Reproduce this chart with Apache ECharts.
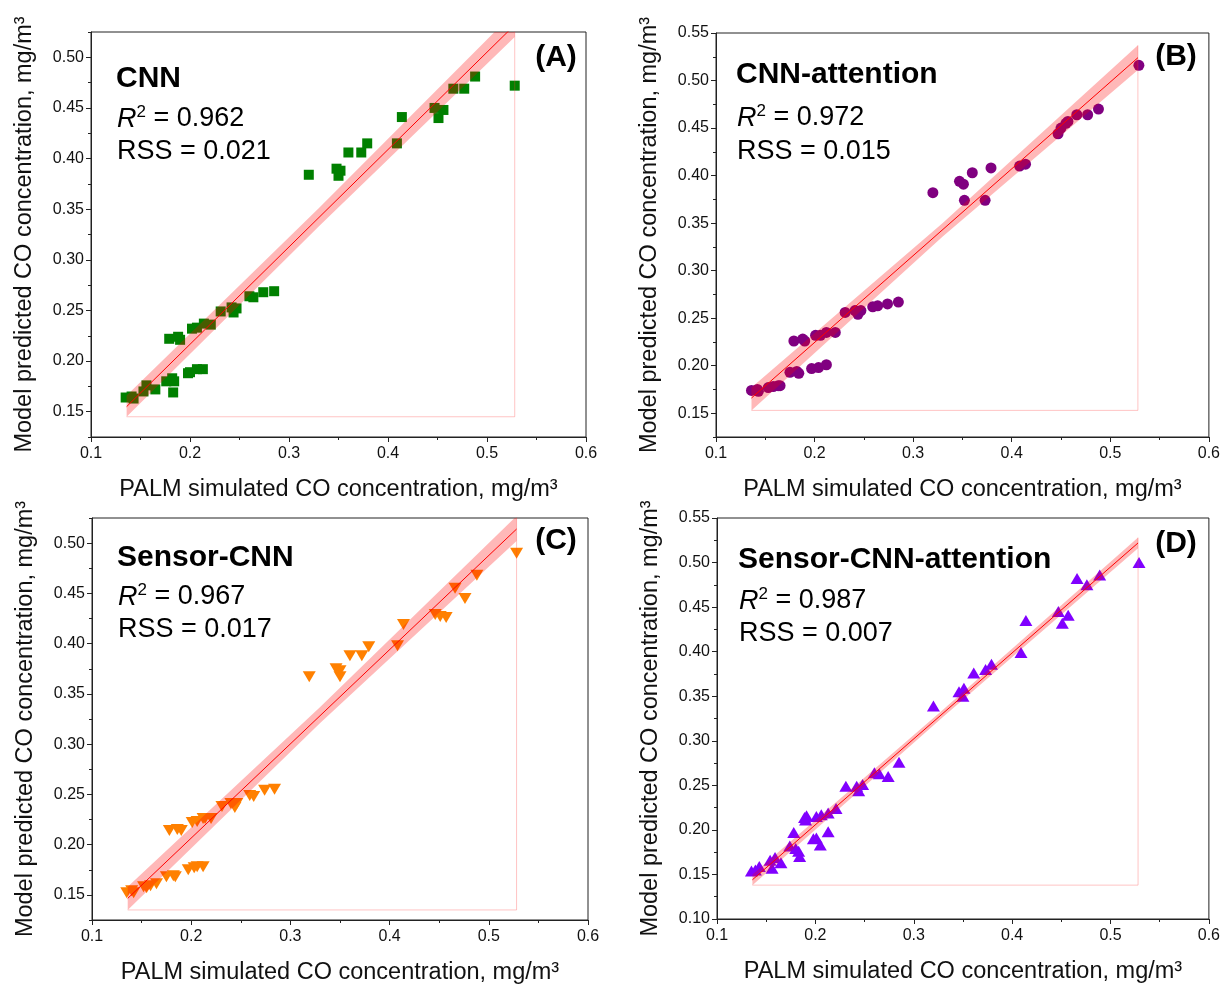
<!DOCTYPE html>
<html>
<head>
<meta charset="utf-8">
<script src="https://cdn.jsdelivr.net/npm/echarts@6/dist/echarts.min.js"></script>
<style>html,body{margin:0;padding:0;background:#fff}#c{width:1223px;height:987px}</style>
</head>
<body>
<div id="c"></div>
<script>
// ---------- DATA ----------
const xTicks = [0.1, 0.2, 0.3, 0.4, 0.5, 0.6];
const yMajorA = [0.15, 0.20, 0.25, 0.30, 0.35, 0.40, 0.45, 0.50];
const yMinorA = [0.125, 0.175, 0.225, 0.275, 0.325, 0.375, 0.425, 0.475, 0.525];
const yMajorB = [0.15, 0.20, 0.25, 0.30, 0.35, 0.40, 0.45, 0.50, 0.55];
const yMinorB = [0.125, 0.175, 0.225, 0.275, 0.325, 0.375, 0.425, 0.475, 0.525];
const yMajorD = [0.10, 0.15, 0.20, 0.25, 0.30, 0.35, 0.40, 0.45, 0.50, 0.55];
const yMinorD = [0.125, 0.175, 0.225, 0.275, 0.325, 0.375, 0.425, 0.475, 0.525];

// (A) CNN
const xCNN = [0.135,0.141,0.143,0.153,0.156,0.165,0.176,0.182,0.184,0.183,0.179,0.188,0.190,0.198,0.200,0.207,0.213,0.202,0.207,0.214,0.221,0.231,0.242,0.244,0.247,0.260,0.264,0.274,0.285,0.320,0.348,0.352,0.350,0.360,0.373,0.379,0.409,0.414,0.447,0.451,0.456,0.466,0.477,0.488,0.528];
const yCNN = [0.164,0.165,0.163,0.170,0.176,0.172,0.180,0.183,0.180,0.169,0.222,0.224,0.221,0.188,0.189,0.192,0.192,0.232,0.233,0.237,0.236,0.249,0.253,0.248,0.252,0.264,0.263,0.268,0.269,0.384,0.390,0.388,0.383,0.406,0.406,0.415,0.415,0.441,0.450,0.440,0.448,0.469,0.469,0.481,0.472];
// (B) CNN-attention
const xCNNAtt = [0.136,0.142,0.143,0.153,0.158,0.163,0.165,0.175,0.182,0.184,0.179,0.188,0.190,0.197,0.204,0.212,0.201,0.206,0.212,0.221,0.231,0.241,0.244,0.247,0.259,0.264,0.274,0.285,0.320,0.347,0.351,0.352,0.360,0.373,0.379,0.408,0.414,0.447,0.450,0.455,0.457,0.466,0.477,0.488,0.529];
const yCNNAtt = [0.174,0.175,0.173,0.177,0.178,0.179,0.179,0.193,0.194,0.192,0.226,0.228,0.226,0.197,0.198,0.201,0.232,0.232,0.235,0.235,0.256,0.258,0.254,0.258,0.262,0.263,0.265,0.267,0.382,0.394,0.391,0.374,0.403,0.374,0.408,0.410,0.412,0.444,0.450,0.455,0.457,0.464,0.464,0.470,0.516];
// (C) Sensor-CNN
const xSCNN = [0.135,0.140,0.142,0.152,0.155,0.159,0.165,0.175,0.182,0.184,0.178,0.186,0.190,0.197,0.203,0.206,0.212,0.201,0.206,0.212,0.214,0.220,0.231,0.240,0.244,0.246,0.259,0.263,0.274,0.284,0.319,0.346,0.350,0.350,0.360,0.372,0.379,0.408,0.414,0.446,0.451,0.457,0.466,0.476,0.488,0.528];
const ySCNN = [0.152,0.154,0.152,0.158,0.157,0.159,0.161,0.168,0.169,0.168,0.214,0.215,0.214,0.175,0.177,0.178,0.178,0.222,0.223,0.226,0.226,0.226,0.238,0.241,0.237,0.241,0.249,0.248,0.254,0.255,0.367,0.375,0.373,0.367,0.388,0.388,0.397,0.398,0.419,0.429,0.427,0.426,0.455,0.445,0.468,0.490];
// (D) Sensor-CNN-attention
const xSCNNAtt = [0.135,0.139,0.143,0.154,0.156,0.159,0.165,0.174,0.178,0.180,0.183,0.184,0.189,0.191,0.190,0.198,0.201,0.205,0.213,0.201,0.206,0.213,0.221,0.231,0.242,0.244,0.248,0.260,0.265,0.274,0.285,0.320,0.346,0.351,0.350,0.361,0.373,0.379,0.409,0.414,0.447,0.451,0.457,0.466,0.476,0.489,0.529];
const ySCNNAtt = [0.154,0.155,0.159,0.166,0.157,0.169,0.163,0.182,0.197,0.179,0.176,0.170,0.214,0.216,0.211,0.190,0.191,0.183,0.198,0.215,0.217,0.219,0.224,0.249,0.249,0.244,0.251,0.264,0.263,0.260,0.276,0.339,0.355,0.359,0.350,0.376,0.380,0.386,0.399,0.435,0.445,0.432,0.441,0.482,0.475,0.486,0.500];

// fitted lines (end points) and 95% confidence bands
const fitX = [0.136, 0.528];
const fitYA = [0.155, 0.532];
const fitYB = [0.166, 0.524];
const fitYC = [0.1465, 0.514];
const fitYD = [0.144, 0.522];
const bandX = [0.136, 0.33, 0.528];
const bandLoA = [0.145, 0.333, 0.520], bandHiA = [0.166, 0.351, 0.545];
const bandLoB = [0.153, 0.336, 0.511], bandHiB = [0.177, 0.350, 0.537];
const bandLoC = [0.135, 0.321, 0.502], bandHiC = [0.158, 0.337, 0.527];
const bandLoD = [0.138, 0.327, 0.516], bandHiD = [0.150, 0.335, 0.528];

const modelNames = ['CNN', 'CNN-attention', 'Sensor-CNN', 'Sensor-CNN-attention'];
const r2Values = ['0.962', '0.972', '0.967', '0.987'];
const rssValues = ['0.021', '0.015', '0.017', '0.007'];
const panelTags = ['(A)', '(B)', '(C)', '(D)'];

// ---------- CHART ----------
const FONT = '"Liberation Sans", Arial, Helvetica, sans-serif';
const panels = [
  {xs:xCNN, ys:yCNN, fitY:fitYA, lo:bandLoA, hi:bandHiA, yMin:0.125, yMax:0.525, yMaj:yMajorA, yMin2:yMinorA,
   grid:{left:91, top:32, width:495, height:405}, color:'#008000', symbol:'rect', size:10, rot:0,
   txt:{x:116, y1:79, y2:119, y3:152}, tag:{x:556, y:58}},
  {xs:xCNNAtt, ys:yCNNAtt, fitY:fitYB, lo:bandLoB, hi:bandHiB, yMin:0.125, yMax:0.55, yMaj:yMajorB, yMin2:yMinorB,
   grid:{left:716, top:33, width:494, height:404}, color:'#800080', symbol:'circle', size:11, rot:0,
   txt:{x:736, y1:75, y2:118, y3:152}, tag:{x:1176, y:57}},
  {xs:xSCNN, ys:ySCNN, fitY:fitYC, lo:bandLoC, hi:bandHiC, yMin:0.125, yMax:0.525, yMaj:yMajorA, yMin2:yMinorA,
   grid:{left:92, top:518, width:496, height:402}, color:'#FF8000', symbol:'triangle', size:[13,11], rot:180,
   txt:{x:117, y1:558, y2:597, y3:630}, tag:{x:556, y:541}},
  {xs:xSCNNAtt, ys:ySCNNAtt, fitY:fitYD, lo:bandLoD, hi:bandHiD, yMin:0.10, yMax:0.55, yMaj:yMajorD, yMin2:yMinorD,
   grid:{left:717, top:518, width:494, height:401}, color:'#8000FF', symbol:'triangle', size:[13,11], rot:0,
   txt:{x:738, y1:560, y2:601, y3:634}, tag:{x:1176, y:544}}
];

const grid = [], xAxis = [], yAxis = [], series = [], graphic = [];
const axisColor = '#222';
panels.forEach((p, i) => {
  grid.push(Object.assign({show:true, borderColor:axisColor, borderWidth:1, containLabel:false}, p.grid));
  xAxis.push({
    type:'value', gridIndex:i, min:0.1, max:0.6, interval:0.1,
    axisLine:{show:true, onZero:false, lineStyle:{color:axisColor, width:1}},
    axisTick:{show:true, inside:false, length:5, lineStyle:{color:axisColor}},
    minorTick:{show:true, splitNumber:2, length:3, lineStyle:{color:axisColor}},
    splitLine:{show:false}, minorSplitLine:{show:false},
    axisLabel:{fontFamily:FONT, fontSize:16, color:'#111', margin:9, formatter:v => v.toFixed(1)},
    name:'PALM simulated CO concentration, mg/m³', nameLocation:'middle', nameGap:41,
    nameTextStyle:{fontFamily:FONT, fontSize:23.5, color:'#111'}
  });
  yAxis.push({
    type:'value', gridIndex:i, min:p.yMin, max:p.yMax, position:'left',
    axisLine:{show:true, onZero:false, lineStyle:{color:axisColor, width:1}},
    axisTick:{show:true, inside:false, length:5, customValues:p.yMaj, lineStyle:{color:axisColor}},
    axisLabel:{fontFamily:FONT, fontSize:16, color:'#111', margin:7, customValues:p.yMaj, formatter:v => v.toFixed(2)},
    splitLine:{show:false},
    name:'Model predicted CO concentration, mg/m³', nameLocation:'middle', nameGap:54,
    nameTextStyle:{fontFamily:FONT, fontSize:23.5, color:'#111'}
  });
  yAxis.push({
    type:'value', gridIndex:i, min:p.yMin, max:p.yMax, position:'left',
    axisLine:{show:false}, axisLabel:{show:false}, splitLine:{show:false},
    axisTick:{show:true, inside:false, length:3, customValues:p.yMin2, lineStyle:{color:axisColor}}
  });
  series.push({
    type:'scatter', xAxisIndex:i, yAxisIndex:2*i, z:2,
    symbol:p.symbol, symbolSize:p.size, symbolRotate:p.rot,
    itemStyle:{color:p.color, opacity:1},
    data:p.xs.map((x, k) => [x, p.ys[k]])
  });
  series.push({
    type:'custom', xAxisIndex:i, yAxisIndex:2*i, z:3, silent:true,
    data:[[0.33, 0.33]],
    renderItem:(params, api) => {
      const pts = [];
      for (let k = 0; k < bandX.length; k++) pts.push(api.coord([bandX[k], p.hi[k]]));
      for (let k = bandX.length - 1; k >= 0; k--) pts.push(api.coord([bandX[k], p.lo[k]]));
      const cs = params.coordSys;
      return {type:'polygon', shape:{points:pts}, style:{fill:'rgba(255,0,0,0.28)'},
        clipPath:{type:'rect', shape:{x:cs.x, y:cs.y, width:cs.width, height:cs.height}}};
    }
  });
  series.push({
    type:'line', xAxisIndex:i, yAxisIndex:2*i, z:3, symbol:'none', silent:true, clip:true,
    lineStyle:{color:'rgba(255,60,60,0.3)', width:1},
    data:[[bandX[0], p.lo[0]], [bandX[2], p.lo[0]], [bandX[2], p.hi[2]]]
  });
  series.push({
    type:'line', xAxisIndex:i, yAxisIndex:2*i, z:4, symbol:'none', silent:true, clip:true,
    lineStyle:{color:'#ff0000', width:1},
    data:fitX.map((x, k) => [x, p.fitY[k]])
  });
  graphic.push({type:'text', x:p.txt.x, y:p.txt.y1, style:{text:modelNames[i], font:'bold 30px ' + FONT, fill:'#000', verticalAlign:'middle'}});
  graphic.push({type:'text', x:p.txt.x + 1, y:p.txt.y2, style:{
    text:'{r|R}{s|2}{n| = ' + r2Values[i] + '}', verticalAlign:'middle',
    rich:{
      r:{fontFamily:FONT, fontSize:27, fontStyle:'italic', fill:'#000', lineHeight:30},
      s:{fontFamily:FONT, fontSize:17, fill:'#000', verticalAlign:'top', lineHeight:30},
      n:{fontFamily:FONT, fontSize:27, fill:'#000', lineHeight:30}
    }}});
  graphic.push({type:'text', x:p.txt.x + 1, y:p.txt.y3, style:{text:'RSS = ' + rssValues[i], font:'27px ' + FONT, fill:'#000', verticalAlign:'middle'}});
  graphic.push({type:'text', x:p.tag.x, y:p.tag.y, style:{text:panelTags[i], font:'bold 30px ' + FONT, fill:'#000', align:'center', verticalAlign:'middle'}});
});

const chart = echarts.init(document.getElementById('c'), null, {renderer:'canvas'});
chart.setOption({animation:false, backgroundColor:'#fff', grid, xAxis, yAxis, series, graphic});
</script>
</body>
</html>
